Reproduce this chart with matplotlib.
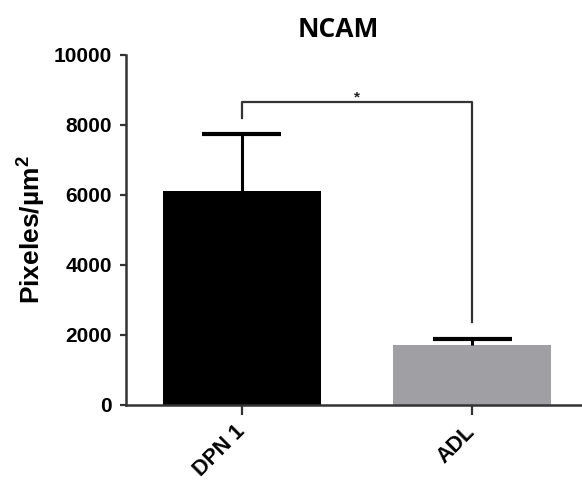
import matplotlib.pyplot as plt
import numpy as np

plt.rcParams['font.family'] = ['Liberation Sans', 'DejaVu Sans']
plt.rcParams['mathtext.fontset'] = 'custom'
plt.rcParams['mathtext.rm'] = 'Liberation Sans:bold'
plt.rcParams['mathtext.bf'] = 'Liberation Sans:bold'
plt.rcParams['mathtext.default'] = 'bf'

# data
groups = ['DPN 1', 'ADL']
means = [6100, 1710]
errors = [1640, 180]
bar_colors = ['#000000', '#a09fa4']
yticks = [0, 2000, 4000, 6000, 8000, 10000]

# significance bracket (DPN 1 vs ADL)
sig_y = 8660
sig_left_bottom = 8200
sig_right_bottom = 2370
sig_label = '*'

axis_color = '#333333'
bar_width = 0.687

W, H = 582, 487
fig = plt.figure(figsize=(W / 100, H / 100), dpi=100)
ax = fig.add_axes([126 / W, 1 - 405 / H, (W - 126) / W, (405 - 55) / H])

x = np.arange(len(groups))
tops = np.add(means, errors)
ax.bar(x, means, width=bar_width, color=bar_colors, edgecolor='none', zorder=2)
# upper-only error bars with a cap half the bar width
ax.vlines(x, means, tops, color='black', lw=2.2, zorder=3)
ax.hlines(tops, x - bar_width / 4, x + bar_width / 4, color='black', lw=3,
          zorder=3)

# bracket
ax.plot([x[0], x[0], x[1], x[1]],
        [sig_left_bottom, sig_y, sig_y, sig_right_bottom],
        color=axis_color, lw=1.6, solid_joinstyle='round', zorder=3)
ax.text((x[0] + x[1]) / 2, sig_y, sig_label, ha='center', va='baseline',
        fontsize=11, fontweight='bold', color='#222222')

ax.set_xlim(-0.504, 1.478)
ax.set_ylim(0, 10000)
ax.set_yticks(yticks)
ax.set_xticks(x)
ax.set_xticklabels(groups, rotation=45, ha='right', va='center',
                   rotation_mode='anchor', fontsize=15.5, fontweight='bold')
ax.tick_params(axis='y', length=4.5, width=1.6, color=axis_color, pad=5.5,
               labelsize=15)
ax.tick_params(axis='x', length=7, width=1.6, color=axis_color, pad=10)
for lbl in ax.get_yticklabels():
    lbl.set_fontweight('bold')

for side in ['top', 'right']:
    ax.spines[side].set_visible(False)
for side in ['left', 'bottom']:
    ax.spines[side].set_color(axis_color)
    ax.spines[side].set_linewidth(1.8)

ax.set_ylabel('Pixeles/µm$^{2}$', fontsize=19, fontweight='bold')
ax.yaxis.set_label_coords(-0.172, 0.5)

fig.text(338 / W, 1 - 37 / H, 'NCAM', ha='center', va='baseline',
         fontsize=19, fontweight='bold', family='Open Sans')

fig.savefig('out.png', dpi=100)
